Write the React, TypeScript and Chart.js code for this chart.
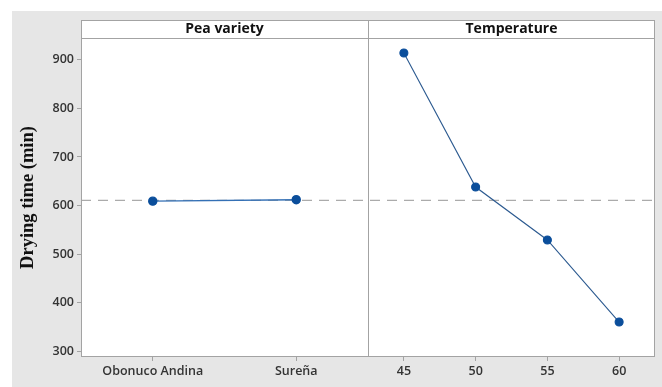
import React, { useEffect, useRef } from "react";
import { Chart, registerables } from "chart.js";

Chart.register(...registerables);

const peaVarieties = ["Obonuco Andina", "Sureña"];
const peaMeans = [609, 612];
const temperatures = [45, 50, 55, 60];
const tempMeans = [914, 638, 529, 360];
const yTicks = [300, 400, 500, 600, 700, 800, 900];
const tempTicks = [45, 50, 55, 60];
const panelTitles = ["Pea variety", "Temperature"];

const GRAY_BG = "#e6e6e6";
const FRAME = "#a3a3a3";
const POINT = "#0b4e9b";
const LINE = "#3470b5";
const TICK_FONT = { family: "'Open Sans', sans-serif", size: 12.5, weight: "600" as const };

export default function App() {
  const ref = useRef<HTMLCanvasElement | null>(null);

  useEffect(() => {
    if (!ref.current) return;
    const grandMean = peaMeans.reduce((a, b) => a + b, 0) / peaMeans.length;

    const framePlugin = {
      id: "minitabFrame",
      beforeDraw(chart: any) {
        const { ctx, width, height } = chart;
        ctx.save();
        ctx.fillStyle = "#ffffff";
        ctx.fillRect(0, 0, width, height);
        ctx.fillStyle = GRAY_BG;
        ctx.fillRect(12, 11, width - 12, height - 11);
        const a = chart.chartArea;
        ctx.fillStyle = "#ffffff";
        ctx.fillRect(a.left, a.top - 18, a.right - a.left, a.bottom - a.top + 18);
        ctx.restore();
      },
      beforeDatasetsDraw(chart: any) {
        const { ctx } = chart;
        const a = chart.chartArea;
        const y = chart.scales.y.getPixelForValue(grandMean);
        ctx.save();
        ctx.strokeStyle = "#ababab";
        ctx.lineWidth = 1.2;
        ctx.setLineDash([10, 7]);
        ctx.beginPath();
        ctx.moveTo(a.left, y);
        ctx.lineTo(a.right, y);
        ctx.stroke();
        ctx.restore();
      },
      afterDraw(chart: any) {
        const { ctx } = chart;
        const a = chart.chartArea;
        const x1 = chart.scales.x1;
        const x2 = chart.scales.x2;
        const top = a.top - 18;
        ctx.save();
        ctx.strokeStyle = FRAME;
        ctx.lineWidth = 1;
        ctx.strokeRect(Math.round(a.left) + 0.5, Math.round(top) + 0.5, Math.round(a.right - a.left) - 1, Math.round(a.bottom - top) - 1);
        ctx.beginPath();
        ctx.moveTo(a.left, Math.round(a.top) + 0.5);
        ctx.lineTo(a.right, Math.round(a.top) + 0.5);
        const dx = Math.round(x1.right) + 0.5;
        ctx.moveTo(dx, top);
        ctx.lineTo(dx, a.bottom);
        ctx.stroke();
        ctx.fillStyle = "#111111";
        ctx.font = "bold 14px 'Open Sans', sans-serif";
        ctx.textAlign = "center";
        ctx.textBaseline = "middle";
        ctx.fillText(panelTitles[0], (x1.left + x1.right) / 2, top + 9.5);
        ctx.fillText(panelTitles[1], (x2.left + x2.right) / 2, top + 9.5);
        ctx.restore();
      },
    };

    const chart = new Chart(ref.current, {
      type: "line",
      data: {
        datasets: [
          {
            label: "Pea variety",
            data: peaVarieties.map((c, i) => ({ x: c, y: peaMeans[i] })) as any,
            xAxisID: "x1",
            yAxisID: "y",
            borderColor: LINE,
            borderWidth: 1.4,
            pointBackgroundColor: POINT,
            pointBorderColor: POINT,
            pointRadius: 4,
            tension: 0,
          },
          {
            label: "Temperature",
            data: temperatures.map((t, i) => ({ x: t, y: tempMeans[i] })),
            xAxisID: "x2",
            yAxisID: "y",
            borderColor: "#2c5a90",
            borderWidth: 1.1,
            pointBackgroundColor: POINT,
            pointBorderColor: POINT,
            pointRadius: 4,
            tension: 0,
          },
        ],
      },
      options: {
        animation: false,
        responsive: false,
        maintainAspectRatio: false,
        layout: { padding: { left: 12, top: 38, right: 7, bottom: 0 } },
        plugins: { legend: { display: false }, tooltip: { enabled: false } },
        scales: {
          y: {
            type: "linear",
            min: 288,
            max: 945,
            afterBuildTicks: (s: any) => {
              s.ticks = yTicks.map((v) => ({ value: v }));
            },
            afterFit: (s: any) => {
              s.width = 69;
            },
            border: { display: false },
            grid: { drawOnChartArea: false, drawTicks: true, tickLength: 4, color: FRAME },
            ticks: { color: "#333333", font: TICK_FONT, padding: 3 },
            title: {
              display: true,
              text: "Drying time (min)",
              color: "#111111",
              font: { family: "'Liberation Serif', 'DejaVu Serif', serif", size: 18.5, weight: "bold" },
              padding: { top: 5, bottom: 0 },
            },
          },
          x1: {
            type: "category",
            labels: peaVarieties,
            position: "bottom",
            stack: "x",
            offset: true,
            afterFit: (s: any) => {
              s.height = 30;
            },
            border: { display: false },
            grid: { offset: false, drawOnChartArea: false, drawTicks: true, tickLength: 4, color: FRAME },
            ticks: { color: "#333333", font: TICK_FONT, padding: 3, maxRotation: 0, autoSkip: false },
          },
          x2: {
            type: "linear",
            position: "bottom",
            stack: "x",
            min: 42.5,
            max: 62.5,
            afterBuildTicks: (s: any) => {
              s.ticks = tempTicks.map((v) => ({ value: v }));
            },
            afterFit: (s: any) => {
              s.height = 30;
            },
            border: { display: false },
            grid: { drawOnChartArea: false, drawTicks: true, tickLength: 4, color: FRAME },
            ticks: { color: "#333333", font: TICK_FONT, padding: 3, maxRotation: 0, autoSkip: false },
          },
        },
      },
      plugins: [framePlugin],
    });
    return () => chart.destroy();
  }, []);

  return (
    <div style={{ position: "fixed", left: 0, top: 0, width: 662, height: 387 }}>
      <canvas ref={ref} width={662} height={387} style={{ display: "block", width: 662, height: 387 }} />
    </div>
  );
}
